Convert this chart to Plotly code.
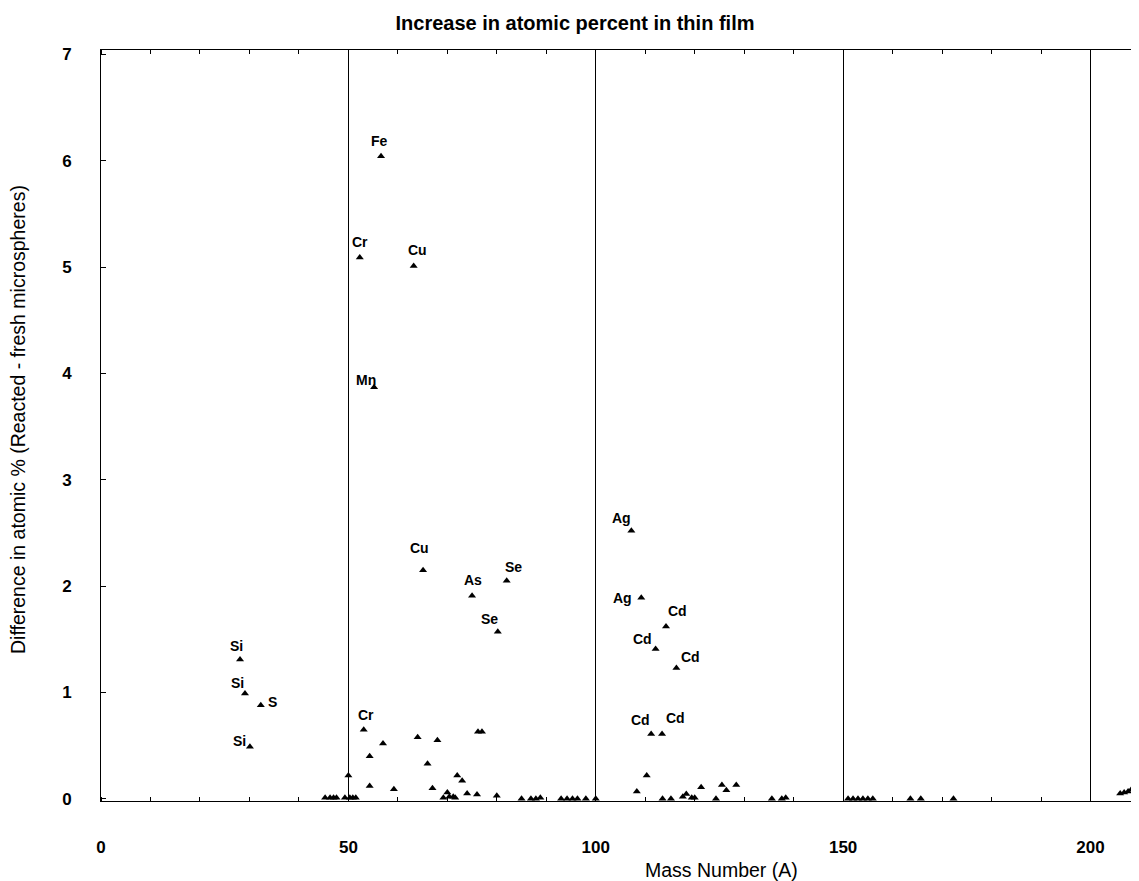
import plotly.graph_objects as go

# ---- labelled points ----
lab_text = ["Si", "Si", "Si", "S", "Cr", "Cr", "Mn", "Fe", "Cu", "Cu",
            "As", "Se", "Se", "Ag", "Ag", "Cd", "Cd", "Cd", "Cd", "Cd"]
lab_mass = [28.1, 29.1, 30.1, 32.3, 52.3, 53.1, 55.2, 56.6, 63.2, 65.1,
            75.0, 80.2, 82.0, 107.2, 109.2, 111.2, 112.1, 113.4, 114.2, 116.3]
lab_diff = [1.31, 0.99, 0.49, 0.88, 5.09, 0.65, 3.87, 6.04, 5.01, 2.15,
            1.91, 1.57, 2.05, 2.52, 1.89, 0.61, 1.41, 0.61, 1.62, 1.23]

# ---- unlabelled points ----
un_mass = [45.3, 46.3, 47.0, 47.6, 49.3, 50.3, 50.9, 51.5, 50.0, 54.3,
           54.3, 57.0, 59.2, 64.0, 66.0, 67.0, 68.0, 69.2, 70.0, 70.4,
           71.2, 71.6, 72.0, 73.0, 74.0, 76.0, 76.2, 77.0, 80.0, 85.0,
           86.9, 87.9, 88.8, 93.0, 94.2, 95.3, 96.3, 98.0, 100.0,
           108.3, 110.3, 113.5, 115.2, 117.6, 118.3, 119.4, 120.0, 121.3, 124.3,
           125.5, 126.4, 128.4, 135.6, 137.6, 138.4, 151.0, 152.0, 153.0, 154.0,
           155.0, 156.0, 163.6, 165.7, 172.3, 206.0, 206.8, 207.6, 208.3]
un_diff = [0.01, 0.01, 0.01, 0.01, 0.01, 0.01, 0.01, 0.01, 0.22, 0.40,
           0.12, 0.52, 0.09, 0.58, 0.33, 0.10, 0.55, 0.01, 0.06, 0.02,
           0.02, 0.01, 0.22, 0.17, 0.05, 0.04, 0.63, 0.63, 0.03, 0.00,
           0.00, 0.00, 0.01, 0.00, 0.00, 0.00, 0.00, 0.00, 0.00,
           0.07, 0.22, 0.00, 0.00, 0.02, 0.045, 0.01, 0.01, 0.11, 0.00,
           0.13, 0.08, 0.13, 0.00, 0.00, 0.01, 0.00, 0.00, 0.00, 0.00,
           0.00, 0.00, 0.00, 0.00, 0.00, 0.05, 0.06, 0.07, 0.09]

x_ticks = [0, 50, 100, 150, 200]
y_ticks = [0, 1, 2, 3, 4, 5, 6, 7]

# label offsets in pixels (layout only)
lab_offsets = [(-4, 14), (-7, 11), (-10, 6), (12, 3), (0, 15), (2, 15), (-8, 7), (-2, 15), (4, 16), (-4, 22),
               (1, 16), (-8, 13), (7, 14), (-10, 13), (-19, 0), (-11, 14), (-13, 10), (13, 16), (11, 16), (14, 11)]

FONT = "Liberation Sans"

# the page body adds an 8 px margin; figure is sized so the plot lands where the reference has it
PAD = 8
W, H = 1139 - PAD, 881 - PAD
PL, PT, PR, PB = 101, 50, 1138, 801   # plot-area edges in window pixels

fig = go.Figure()
fig.add_trace(go.Scatter(x=un_mass, y=un_diff, mode="markers",
                         marker=dict(symbol="triangle-up", size=7, color="black"),
                         hoverinfo="x+y", showlegend=False))
fig.add_trace(go.Scatter(x=lab_mass, y=lab_diff, mode="markers",
                         marker=dict(symbol="triangle-up", size=7, color="black"),
                         text=lab_text, hoverinfo="text+x+y", showlegend=False))

for t, m, d, (dx, dy) in zip(lab_text, lab_mass, lab_diff, lab_offsets):
    fig.add_annotation(x=m, y=d, text="<b>" + t + "</b>", showarrow=False,
                       xshift=dx, yshift=dy,
                       font=dict(family=FONT, size=14, color="black"))

pw, ph = PR - PL, PB - PT
# axis titles
fig.add_annotation(xref="paper", yref="paper", x=(721 - PL) / pw, y=(PB - 870) / ph,
                   text="Mass Number (A)", showarrow=False,
                   xanchor="center", yanchor="middle",
                   font=dict(family=FONT, size=19.5, color="black"))
fig.add_annotation(xref="paper", yref="paper", x=(18 - PL) / pw, y=(PB - 420) / ph,
                   text="Difference in atomic % (Reacted - fresh microspheres)",
                   textangle=-90, showarrow=False,
                   xanchor="center", yanchor="middle",
                   font=dict(family=FONT, size=19.5, color="black"))

fig.update_layout(
    width=W, height=H,
    margin=dict(l=PL - PAD, r=W + PAD - PR, t=PT - PAD, b=H + PAD - PB),
    paper_bgcolor="white", plot_bgcolor="white",
    font=dict(family=FONT, color="black"),
    title=dict(text="<b>Increase in atomic percent in thin film</b>",
               x=(575 - PAD) / W, xanchor="center", y=1 - (23 - PAD) / H, yanchor="middle",
               font=dict(family=FONT, size=20, color="black")),
    xaxis=dict(range=[0, 209.6], tickvals=x_ticks,
               ticktext=["<b>%d</b>" % v for v in x_ticks],
               showgrid=True, gridcolor="black", gridwidth=1,
               zeroline=False, showline=True, mirror="allticks",
               linecolor="black", linewidth=1, ticks="",
               minor=dict(dtick=10, ticks="inside", ticklen=4, tickcolor="black", showgrid=False),
               ticklabelstandoff=31, automargin=False,
               tickfont=dict(family=FONT, size=17, color="black")),
    yaxis=dict(range=[-0.02, 7.04], tickvals=y_ticks,
               ticktext=["<b>%d</b>" % v for v in y_ticks],
               showgrid=False, zeroline=False, showline=True, mirror=True,
               linecolor="black", linewidth=1, ticks="inside", ticklen=5,
               tickcolor="black",
               ticklabelstandoff=25, automargin=False,
               tickfont=dict(family=FONT, size=17, color="black")),
)

fig.write_html("out.html")
